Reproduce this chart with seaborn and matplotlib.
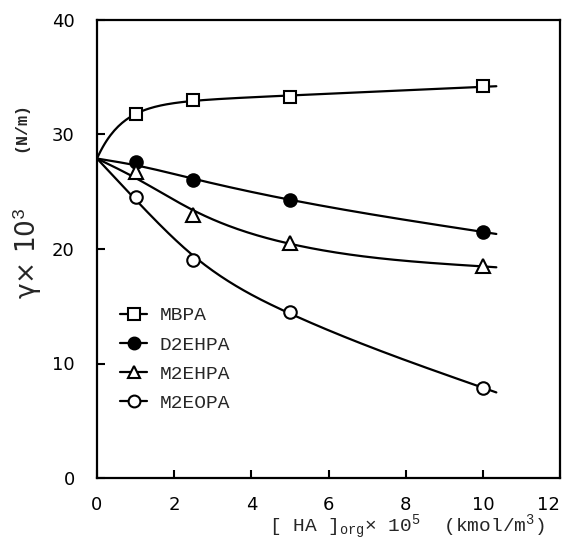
import numpy as np
import pandas as pd
import matplotlib
matplotlib.use("Agg")
import matplotlib.pyplot as plt
import seaborn as sns
from matplotlib.lines import Line2D

# ---- data ----
conc = [1.0, 2.5, 5.0, 10.0]            # [HA]org x 10^5 (kmol/m3)
origin_conc = 0.0
origin_gamma = 27.9                     # common starting value
mbpa = [31.8, 33.0, 33.3, 34.2]
d2ehpa = [27.6, 26.0, 24.3, 21.5]
m2ehpa = [26.7, 23.0, 20.5, 18.5]
m2eopa = [24.5, 19.0, 14.5, 7.9]
series_names = ["MBPA", "D2EHPA", "M2EHPA", "M2EOPA"]
x_ticks = [0, 2, 4, 6, 8, 10, 12]
y_ticks = [0, 10, 20, 30, 40]

series = dict(zip(series_names, [mbpa, d2ehpa, m2ehpa, m2eopa]))
markers = {"MBPA": "s", "D2EHPA": "o", "M2EHPA": "^", "M2EOPA": "o"}
faces = {"MBPA": "white", "D2EHPA": "black", "M2EHPA": "white", "M2EOPA": "white"}
# curve-drawing style: saturating fit for MBPA, smoothing curve for the others
curve_style = {"MBPA": ("saturating", None), "D2EHPA": ("smooth", 0.6),
               "M2EHPA": ("smooth", 0.5), "M2EOPA": ("smooth", 0.5)}

STEP = 0.05
X_END = 10.35
GRID = np.arange(0, X_END + STEP / 2, STEP)


def smoothing_curve(x, y, lam):
    """Penalised (smoothing-spline-like) curve through the points on a fine grid."""
    n = len(GRID)
    W = np.zeros(n); target = np.zeros(n)
    for xi, yi in zip(x, y):
        j = int(round(xi / STEP))
        W[j] = 200.0 if xi == 0 else 1.0
        target[j] = yi
    D = np.zeros((n - 2, n))
    for i in range(n - 2):
        D[i, i:i + 3] = [1, -2, 1]
    A = np.diag(W) + (lam / STEP**3) * D.T @ D
    return np.linalg.solve(A, W * target)


def saturating_curve(x, y):
    """Least-squares fit y = a + b*x + c*(1-exp(-x/k)), origin weighted strongly."""
    x = np.asarray(x, float); y = np.asarray(y, float)
    w = np.ones_like(x); w[0] = 20.0
    best = None
    for k in np.linspace(0.2, 30, 600):
        A = np.column_stack([np.ones_like(x), x, 1 - np.exp(-x / k)])
        coef, *_ = np.linalg.lstsq(A * w[:, None], y * w, rcond=None)
        r = np.sum((w * (A @ coef - y)) ** 2)
        if best is None or r < best[0]:
            best = (r, k, coef)
    _, k, c = best
    return c[0] + c[1] * GRID + c[2] * (1 - np.exp(-GRID / k))


sns.set_style("ticks")
plt.rcParams["mathtext.fontset"] = "custom"
plt.rcParams["mathtext.rm"] = "Liberation Mono"
plt.rcParams["mathtext.it"] = "Liberation Mono"

fig = plt.figure(figsize=(5.62, 5.44), dpi=100)
ax = fig.add_axes([97 / 562, 1 - 478 / 544, (560 - 97) / 562, (478 - 20) / 544])

rows = []
for name, vals in series.items():
    xx = [origin_conc] + conc
    yy = [origin_gamma] + vals
    kind, lam = curve_style[name]
    gy = saturating_curve(xx, yy) if kind == "saturating" else smoothing_curve(xx, yy, lam)
    rows.append(pd.DataFrame({"x": GRID, "y": gy, "s": name}))
curves = pd.concat(rows)
pts = pd.DataFrame([(c, v, n) for n, vals in series.items() for c, v in zip(conc, vals)],
                   columns=["x", "y", "s"])

sns.lineplot(data=curves, x="x", y="y", units="s", estimator=None, color="black",
             lw=1.6, ax=ax, legend=False)
for name in series_names:
    sub = pts[pts.s == name]
    ax.plot(sub.x, sub.y, ls="none", marker=markers[name], ms=9.5 if markers[name] == "^" else 9,
            mfc=faces[name], mec="black", mew=1.5, zorder=5)

ax.set_xlim(0, 12)
ax.set_ylim(0, 40)
ax.set_xticks(x_ticks)
ax.set_yticks(y_ticks)
ax.tick_params(direction="in", length=6, width=1.5, labelsize=13, colors="black")
ax.tick_params(axis="x", pad=13)
ax.tick_params(axis="y", pad=16)
xl = ax.get_xticklabels()
xl[-1].set_horizontalalignment("right")
for s in ax.spines.values():
    s.set_linewidth(1.6)
    s.set_color("black")
ax.set_xlabel(""); ax.set_ylabel("")

handles = [Line2D([0], [0], color="black", lw=1.6, marker=markers[n], ms=8.5,
                  mfc=faces[n], mec="black", mew=1.5) for n in series_names]
ax.legend(handles, series_names, loc="upper left", bbox_to_anchor=(0.012, 0.412),
          frameon=False, handlelength=1.4, handletextpad=0.65, labelspacing=0.6,
          prop={"family": "Liberation Mono", "size": 14})

fig.text(28 / 562, 1 - 253 / 544, "γ× 10$^{3}$", rotation=90, ha="center", va="center",
         fontsize=19, family="DejaVu Sans")
fig.text(21 / 562, 1 - 127 / 544, "(N/m)", rotation=90, ha="center", va="center",
         fontsize=12, family="Liberation Mono", weight="bold")
fig.text(407 / 562, 1 - 527 / 544, r"[ HA ]$_{\rm org}$× 10$^{5}$  (kmol/m$^{3}$)",
         ha="center", va="center", fontsize=14, family="Liberation Mono")

fig.savefig("out.png", dpi=100)
